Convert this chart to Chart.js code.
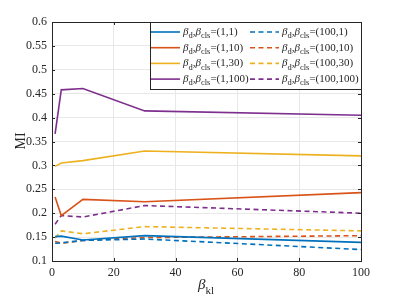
<!DOCTYPE html>
<html>
<head>
<meta charset="utf-8">
<script src="https://cdn.jsdelivr.net/npm/chart.js@4"></script>
<style>
  html, body { margin: 0; padding: 0; background: #fff; }
</style>
</head>
<body>
<canvas id="grafico" width="399" height="299"></canvas>
<script>
// valores
const betaKl = [1, 3, 10, 30, 100];
const ticksX = [0, 20, 40, 60, 80, 100];

const mi_1_1 = [0.151, 0.152, 0.144, 0.153, 0.139];
const mi_1_10 = [0.234, 0.195, 0.229, 0.224, 0.243];
const mi_1_30 = [0.298, 0.305, 0.31, 0.33, 0.32];
const mi_1_100 = [0.366, 0.458, 0.461, 0.414, 0.405];

const mi_100_1 = [0.137, 0.138, 0.143, 0.146, 0.124];
const mi_100_10 = [0.141, 0.137, 0.143, 0.149, 0.153];
const mi_100_30 = [0.148, 0.163, 0.157, 0.172, 0.163];
const mi_100_100 = [0.177, 0.195, 0.192, 0.216, 0.2];

const legendas = ["(1,1)", "(100,1)", "(1,10)", "(100,10)", "(1,30)", "(100,30)", "(1,100)", "(100,100)"];

const azul = "#0072BD", laranja = "#D95319", amarelo = "#EDB120", roxo = "#7E2F8E";

function serie(valores, cor, tracejado, nome) {
  return {
    label: nome,
    data: betaKl.map((x, i) => ({ x: x, y: valores[i] })),
    borderColor: cor,
    backgroundColor: cor,
    borderWidth: 1.6,
    borderDash: tracejado ? [5, 3.5] : [],
    pointRadius: 0,
    tension: 0,
  };
}

const fonte = "'Liberation Serif', 'DejaVu Serif', serif";
const corTexto = "#262626";

function escreveBeta(ctx, x, y, sub, tam, tamSub) {
  // β com subscrito
  ctx.font = "italic " + tam + "px " + fonte;
  ctx.fillText("β", x, y);
  x += ctx.measureText("β").width;
  ctx.font = tamSub + "px " + fonte;
  ctx.fillText(sub, x, y + tam * 0.3);
  return x + ctx.measureText(sub).width;
}

const moldura = {
  id: "moldura",
  afterDraw(chart) {
    const ctx = chart.ctx;
    const a = chart.chartArea;
    ctx.save();
    // caixa dos eixos
    ctx.strokeStyle = "#262626";
    ctx.lineWidth = 1;
    ctx.strokeRect(a.left + 0.5, a.top + 0.5, a.right - a.left, a.bottom - a.top);

    // marcas internas
    const sx = chart.scales.x, sy = chart.scales.y;
    ctx.beginPath();
    ticksX.forEach((t) => {
      const px = Math.round(sx.getPixelForValue(t)) + 0.5;
      ctx.moveTo(px, a.bottom); ctx.lineTo(px, a.bottom - 3);
      ctx.moveTo(px, a.top); ctx.lineTo(px, a.top + 3);
    });
    for (let v = 0.1; v <= 0.6001; v += 0.05) {
      const py = Math.round(sy.getPixelForValue(v)) + 0.5;
      ctx.moveTo(a.left, py); ctx.lineTo(a.left + 3, py);
      ctx.moveTo(a.right, py); ctx.lineTo(a.right - 3, py);
    }
    ctx.stroke();

    // títulos dos eixos
    ctx.fillStyle = corTexto;
    ctx.textBaseline = "alphabetic";
    escreveBeta(ctx, 198, 289, "kl", 15, 11);
    ctx.save();
    ctx.translate(25, 141);
    ctx.rotate(-Math.PI / 2);
    ctx.font = "14px " + fonte;
    ctx.textAlign = "center";
    ctx.fillText("MI", 0, 0);
    ctx.restore();

    // legenda
    const lx = 150, ly = a.top, lw = a.right - 150, lh = 67;
    ctx.fillStyle = "#fff";
    ctx.fillRect(lx, ly, lw, lh);
    ctx.strokeStyle = "#262626";
    ctx.strokeRect(lx + 0.5, ly + 0.5, lw, lh);
    chart.data.datasets.forEach((ds, i) => {
      const col = i % 2, lin = Math.floor(i / 2);
      const y = ly + 10 + lin * 15.7;
      const x0 = col === 0 ? lx + 1 : lx + 100;
      ctx.strokeStyle = ds.borderColor;
      ctx.lineWidth = 1.6;
      ctx.setLineDash(ds.borderDash);
      ctx.beginPath();
      ctx.moveTo(x0, y); ctx.lineTo(x0 + 29, y);
      ctx.stroke();
      ctx.setLineDash([]);
      ctx.fillStyle = corTexto;
      let x = x0 + 32;
      x = escreveBeta(ctx, x, y + 3, "d", 11, 8.5);
      ctx.font = "11px " + fonte;
      ctx.fillText(",", x, y + 3);
      x += ctx.measureText(",").width;
      x = escreveBeta(ctx, x, y + 3, "cls", 11, 8.5);
      ctx.font = "11px " + fonte;
      ctx.fillText("=" + ds.label, x, y + 3);
    });
    ctx.restore();
  },
};

const ctx = document.getElementById("grafico");
window.meuGrafico = new Chart(ctx, {
  type: "line",
  data: {
    datasets: [
      serie(mi_1_1, azul, false, legendas[0]),
      serie(mi_100_1, azul, true, legendas[1]),
      serie(mi_1_10, laranja, false, legendas[2]),
      serie(mi_100_10, laranja, true, legendas[3]),
      serie(mi_1_30, amarelo, false, legendas[4]),
      serie(mi_100_30, amarelo, true, legendas[5]),
      serie(mi_1_100, roxo, false, legendas[6]),
      serie(mi_100_100, roxo, true, legendas[7]),
    ],
  },
  options: {
    responsive: false,
    animation: false,
    devicePixelRatio: 1,
    layout: { padding: { top: 22, right: 38, left: 0, bottom: 0 } },
    plugins: { legend: { display: false }, tooltip: { enabled: false } },
    scales: {
      x: {
        type: "linear",
        min: 0,
        max: 100,
        afterBuildTicks: (s) => { s.ticks = ticksX.map((v) => ({ value: v })); },
        afterFit: (s) => { s.height = 38; },
        grid: { color: "#e8e8e8", drawTicks: false },
        border: { display: false },
        ticks: { color: corTexto, font: { family: fonte, size: 12 }, padding: 5, maxRotation: 0 },
      },
      y: {
        min: 0.1,
        max: 0.6,
        afterFit: (s) => { s.width = 52; },
        grid: { color: "#e8e8e8", drawTicks: false },
        border: { display: false },
        ticks: {
          stepSize: 0.05,
          color: corTexto,
          font: { family: fonte, size: 12 },
          padding: 5,
          callback: (v) => String(Number(v.toFixed(2))),
        },
      },
    },
  },
  plugins: [moldura],
});
</script>
</body>
</html>
